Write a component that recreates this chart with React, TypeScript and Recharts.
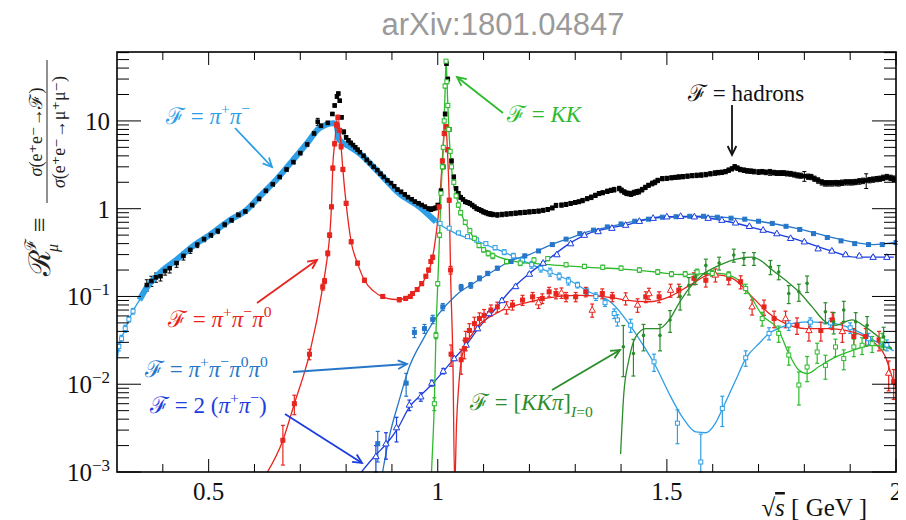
import React from "react";
import { ComposedChart, Line, Scatter, XAxis, YAxis, ErrorBar } from "recharts";

type Pt = [number, number];
// [sqrt(s), R, error] or [sqrt(s), R, error below, error above]
type EPt = [number, number, number] | [number, number, number, number];

// F = hadrons (black data)
const hadrons: EPt[] = [
  [0.365, 0.135, 0.02], [0.375, 0.15, 0.02], [0.385, 0.165, 0.02], [0.395, 0.17, 0.02],
  [0.405, 0.195, 0.02], [0.415, 0.21, 0.025], [0.43, 0.24, 0.025], [0.445, 0.29, 0.03],
  [0.46, 0.34, 0.03], [0.475, 0.39, 0.03], [0.49, 0.45, 0.03], [0.505, 0.5, 0.03],
  [0.52, 0.56, 0.04], [0.535, 0.66, 0.04], [0.55, 0.74, 0.04], [0.565, 0.85, 0.05],
  [0.58, 0.93, 0.05], [0.595, 1.1, 0.06], [0.61, 1.3, 0.07], [0.625, 1.6, 0.08],
  [0.64, 1.9, 0.1], [0.655, 2.3, 0.12], [0.67, 2.8, 0.14], [0.685, 3.4, 0.17],
  [0.7, 4.3, 0.2], [0.715, 5.4, 0.3], [0.73, 7.2, 0.4], [0.738, 9.8, 0.9],
  [0.745, 8.8, 0.4], [0.76, 9.5, 0.4], [0.77, 12, 0.5], [0.775, 15, 0.6],
  [0.78, 19, 0.8], [0.783, 20.5, 0.8], [0.786, 17, 0.7], [0.79, 11, 0.5],
  [0.795, 7.5, 0.4], [0.8, 6.5, 0.3], [0.805, 6.0, 0.3], [0.81, 5.6, 0.3],
  [0.815, 5.3, 0.25], [0.82, 5.0, 0.25], [0.825, 4.7, 0.2], [0.83, 4.4, 0.2],
  [0.838, 4.0, 0.2], [0.845, 3.6, 0.2], [0.852, 3.3, 0.15], [0.86, 3.0, 0.15],
  [0.868, 2.75, 0.13], [0.875, 2.5, 0.12], [0.882, 2.3, 0.11], [0.89, 2.1, 0.1],
  [0.898, 1.95, 0.1], [0.905, 1.8, 0.09], [0.912, 1.65, 0.08], [0.92, 1.55, 0.08],
  [0.928, 1.45, 0.07], [0.935, 1.35, 0.07], [0.943, 1.28, 0.06], [0.95, 1.2, 0.06],
  [0.958, 1.15, 0.06], [0.965, 1.1, 0.05], [0.972, 1.05, 0.05], [0.98, 1.0, 0.05],
  [0.985, 0.98, 0.05], [0.99, 1.0, 0.05], [0.995, 1.02, 0.05], [1.0, 1.1, 0.05],
  [1.007, 1.6, 0.08], [1.012, 3.0, 0.15], [1.016, 12, 0.6], [1.019, 45, 2],
  [1.022, 30, 1.5], [1.025, 8, 0.4], [1.03, 3.5, 0.2], [1.035, 2.3, 0.12],
  [1.04, 1.7, 0.08], [1.045, 1.5, 0.07], [1.05, 1.35, 0.07], [1.055, 1.28, 0.06],
  [1.06, 1.2, 0.06], [1.065, 1.18, 0.06], [1.07, 1.15, 0.06], [1.075, 1.1, 0.05],
  [1.08, 1.05, 0.05], [1.085, 1.0, 0.05], [1.09, 0.98, 0.05], [1.095, 0.95, 0.05],
  [1.1, 0.92, 0.05], [1.105, 0.9, 0.05], [1.11, 0.88, 0.05], [1.115, 0.87, 0.05],
  [1.12, 0.86, 0.05], [1.13, 0.85, 0.05], [1.14, 0.86, 0.05], [1.15, 0.87, 0.05],
  [1.16, 0.88, 0.05], [1.17, 0.89, 0.05], [1.18, 0.9, 0.05], [1.19, 0.91, 0.05],
  [1.2, 0.92, 0.05], [1.21, 0.93, 0.05], [1.22, 0.94, 0.05], [1.23, 0.96, 0.05],
  [1.24, 0.98, 0.05], [1.25, 1.02, 0.05], [1.258, 1.09, 0.06], [1.27, 1.1, 0.06],
  [1.28, 1.12, 0.06], [1.29, 1.15, 0.06], [1.3, 1.18, 0.06], [1.308, 1.2, 0.06],
  [1.316, 1.24, 0.07], [1.326, 1.3, 0.07], [1.335, 1.35, 0.08], [1.344, 1.42, 0.08],
  [1.352, 1.49, 0.08], [1.36, 1.52, 0.08], [1.37, 1.58, 0.09], [1.378, 1.62, 0.09],
  [1.385, 1.65, 0.1], [1.396, 1.7, 0.1], [1.401, 1.62, 0.1], [1.407, 1.55, 0.09],
  [1.412, 1.5, 0.09], [1.417, 1.49, 0.09], [1.422, 1.47, 0.09], [1.428, 1.52, 0.1],
  [1.434, 1.55, 0.1], [1.439, 1.57, 0.1], [1.446, 1.65, 0.1], [1.453, 1.75, 0.1],
  [1.46, 1.85, 0.1], [1.468, 1.94, 0.12], [1.474, 2.0, 0.12], [1.48, 2.1, 0.12],
  [1.49, 2.2, 0.12], [1.5, 2.22, 0.12], [1.51, 2.25, 0.12], [1.518, 2.28, 0.12],
  [1.526, 2.3, 0.13], [1.535, 2.32, 0.13], [1.545, 2.35, 0.13], [1.555, 2.38, 0.13],
  [1.565, 2.4, 0.14], [1.575, 2.42, 0.14], [1.585, 2.45, 0.14], [1.595, 2.5, 0.14],
  [1.605, 2.55, 0.15], [1.612, 2.58, 0.15], [1.62, 2.6, 0.15], [1.628, 2.65, 0.15],
  [1.635, 2.75, 0.16], [1.642, 2.85, 0.16], [1.648, 3.0, 0.18], [1.654, 2.9, 0.17],
  [1.66, 2.8, 0.16], [1.668, 2.75, 0.16], [1.675, 2.7, 0.16], [1.683, 2.68, 0.16],
  [1.69, 2.65, 0.16], [1.7, 2.62, 0.16], [1.708, 2.64, 0.16], [1.716, 2.6, 0.16],
  [1.725, 2.6, 0.2], [1.733, 2.58, 0.16], [1.74, 2.55, 0.16], [1.748, 2.55, 0.16],
  [1.755, 2.55, 0.16], [1.762, 2.52, 0.16], [1.77, 2.5, 0.16], [1.778, 2.45, 0.16],
  [1.785, 2.4, 0.16], [1.792, 2.38, 0.16], [1.8, 2.35, 0.3], [1.808, 2.32, 0.16],
  [1.815, 2.3, 0.16], [1.822, 2.2, 0.15], [1.83, 2.1, 0.15], [1.838, 2.0, 0.14],
  [1.845, 1.95, 0.14], [1.852, 1.95, 0.14], [1.86, 1.95, 0.14], [1.868, 1.96, 0.14],
  [1.875, 1.95, 0.14], [1.882, 1.98, 0.14], [1.89, 2.0, 0.14], [1.898, 2.0, 0.14],
  [1.905, 2.0, 0.14], [1.912, 2.02, 0.14], [1.92, 2.05, 0.15], [1.928, 2.08, 0.15],
  [1.935, 2.1, 0.4], [1.942, 2.12, 0.15], [1.95, 2.15, 0.15], [1.958, 2.18, 0.15],
  [1.965, 2.2, 0.15], [1.972, 2.25, 0.16], [1.98, 2.3, 0.16], [1.988, 2.25, 0.16],
  [1.995, 2.2, 0.16],
];

// F = pi+ pi- fit curve
const pipiFit: Pt[] = [
  [0.3, 0.019], [0.306, 0.029], [0.317, 0.041], [0.328, 0.058], [0.349, 0.091],
  [0.364, 0.124], [0.393, 0.185], [0.429, 0.26], [0.473, 0.4], [0.502, 0.5],
  [0.546, 0.74], [0.582, 0.96], [0.611, 1.37], [0.647, 2.12], [0.684, 3.58],
  [0.72, 6.06], [0.738, 8.0], [0.755, 9.0], [0.772, 9.4], [0.778, 9.3],
  [0.785, 6.1], [0.807, 5.1], [0.829, 4.27], [0.873, 2.53], [0.916, 1.49],
  [0.96, 1.05], [0.996, 0.71], [1.04, 0.52], [1.09, 0.42], [1.134, 0.337],
  [1.2, 0.238], [1.243, 0.19], [1.287, 0.153], [1.33, 0.113], [1.381, 0.083],
  [1.417, 0.049], [1.446, 0.029], [1.476, 0.0159], [1.505, 0.0078], [1.534, 0.0042],
  [1.563, 0.00286], [1.585, 0.0028], [1.606, 0.0036], [1.621, 0.0052], [1.65, 0.0111],
  [1.672, 0.0196], [1.701, 0.0291], [1.723, 0.0378], [1.752, 0.045], [1.781, 0.05],
  [1.813, 0.0514], [1.845, 0.05], [1.875, 0.048], [1.912, 0.041], [1.955, 0.031],
  [1.995, 0.024],
];

// F = pi+ pi- data (open squares)
const pipiPts: EPt[] = [
  [0.304, 0.027, 0.003], [0.31, 0.033, 0.003], [0.318, 0.043, 0.004], [0.326, 0.055, 0.004],
  [0.335, 0.068, 0.005], [1.005, 0.68, 0.02], [1.025, 0.6, 0.02], [1.045, 0.53, 0.02],
  [1.065, 0.48, 0.02], [1.085, 0.44, 0.02], [1.105, 0.4, 0.02], [1.125, 0.36, 0.02],
  [1.145, 0.32, 0.02], [1.165, 0.29, 0.02], [1.185, 0.26, 0.02], [1.205, 0.23, 0.02],
  [1.225, 0.21, 0.02], [1.245, 0.19, 0.02], [1.265, 0.17, 0.015], [1.285, 0.15, 0.015],
  [1.305, 0.135, 0.01], [1.325, 0.115, 0.01], [1.345, 0.1, 0.01], [1.365, 0.085, 0.008],
  [1.385, 0.064, 0.008], [1.392, 0.054, 0.008], [1.421, 0.047, 0.008], [1.472, 0.018, 0.004],
  [1.523, 0.0036, 0.0015], [1.574, 0.0013, 0.0003, 0.0014], [1.621, 0.0053, 0.002], [1.672, 0.02, 0.004],
  [1.723, 0.038, 0.006], [1.766, 0.047, 0.006], [1.813, 0.051, 0.006], [1.857, 0.05, 0.006],
  [1.9, 0.044, 0.006], [1.94, 0.033, 0.005], [1.98, 0.028, 0.004],
];

// F = pi+ pi- pi0 fit
const threePiFit: Pt[] = [
  [0.62, 0.00085], [0.662, 0.0023], [0.687, 0.006], [0.72, 0.022], [0.749, 0.128],
  [0.76, 0.31], [0.764, 0.48], [0.768, 1.05], [0.771, 3.1], [0.775, 5.5],
  [0.782, 11.5], [0.789, 5.1], [0.793, 2.75], [0.8, 1.15], [0.811, 0.42],
  [0.825, 0.238], [0.84, 0.153], [0.86, 0.115], [0.88, 0.099], [0.9, 0.093],
  [0.916, 0.092], [0.93, 0.097], [0.945, 0.108], [0.96, 0.13], [0.974, 0.167],
  [0.989, 0.283], [0.998, 0.6], [1.003, 1.05], [1.009, 3.0], [1.014, 7.2],
  [1.018, 8.6], [1.021, 4.7], [1.025, 1.25], [1.028, 0.18], [1.033, 0.019],
  [1.037, 0.0007], [1.041, 0.0036], [1.046, 0.01], [1.054, 0.022], [1.076, 0.038],
  [1.127, 0.064], [1.2, 0.087], [1.265, 0.1], [1.309, 0.103], [1.381, 0.097],
  [1.41, 0.091], [1.461, 0.087], [1.505, 0.099], [1.556, 0.14], [1.592, 0.176],
  [1.606, 0.177], [1.643, 0.161], [1.686, 0.099], [1.723, 0.064], [1.759, 0.049],
  [1.803, 0.043], [1.853, 0.043], [1.89, 0.041], [1.926, 0.036], [1.955, 0.029],
  [1.977, 0.0205], [1.991, 0.0122], [2.0, 0.009],
];

const threePiSq: EPt[] = [
  [0.662, 0.0023, 0.0011], [0.687, 0.006, 0.0015], [0.72, 0.022, 0.003], [0.749, 0.128, 0.01],
  [0.753, 0.15, 0.01], [0.76, 0.31, 0.02], [0.764, 0.5, 0.03], [0.768, 1.05, 0.05],
  [0.771, 2.9, 0.15], [0.775, 5.5, 0.3], [0.779, 9, 0.5], [0.782, 11, 0.6],
  [0.786, 7.8, 0.4], [0.789, 5.1, 0.3], [0.793, 2.8, 0.15], [0.8, 1.15, 0.06],
  [0.811, 0.42, 0.02], [0.825, 0.24, 0.012], [0.84, 0.153, 0.008], [0.88, 0.1, 0.005],
  [0.916, 0.092, 0.005], [0.93, 0.095, 0.005], [0.94, 0.1, 0.005], [0.945, 0.108, 0.005],
  [0.955, 0.12, 0.006], [0.965, 0.14, 0.007], [0.974, 0.17, 0.008], [0.98, 0.2, 0.01],
  [0.985, 0.25, 0.012], [0.989, 0.28, 0.014], [1.003, 1.05, 0.05], [1.01, 3.5, 0.2],
  [1.014, 7.2, 0.4], [1.018, 8.6, 0.4], [1.021, 4.7, 0.25], [1.025, 1.25, 0.06],
  [1.028, 0.2, 0.02], [1.029, 0.022, 0.006], [1.051, 0.019, 0.006], [1.058, 0.0255, 0.006],
  [1.061, 0.032, 0.008], [1.069, 0.041, 0.008], [1.08, 0.049, 0.009], [1.091, 0.056, 0.009],
  [1.101, 0.061, 0.01], [1.116, 0.07, 0.01], [1.13, 0.076, 0.01], [1.163, 0.08, 0.01],
  [1.185, 0.091, 0.012], [1.207, 0.099, 0.012], [1.228, 0.095, 0.012], [1.243, 0.113, 0.014],
  [1.258, 0.108, 0.014], [1.28, 0.099, 0.012], [1.301, 0.099, 0.012], [1.323, 0.113, 0.014],
  [1.359, 0.108, 0.014], [1.381, 0.099, 0.012], [1.454, 0.099, 0.014], [1.483, 0.099, 0.014],
  [1.526, 0.118, 0.02], [1.559, 0.161, 0.025], [1.585, 0.153, 0.025], [1.635, 0.161, 0.025],
  [1.661, 0.147, 0.025], [1.712, 0.076, 0.015], [1.734, 0.056, 0.012], [1.784, 0.047, 0.01],
  [1.836, 0.041, 0.01], [1.861, 0.054, 0.012], [1.908, 0.035, 0.008], [1.934, 0.035, 0.008],
  [1.963, 0.032, 0.008], [1.995, 0.0107, 0.004],
];

const threePiTri: EPt[] = [
  [1.15, 0.075, 0.012], [1.22, 0.085, 0.012], [1.27, 0.11, 0.015], [1.337, 0.07, 0.012],
  [1.41, 0.095, 0.015], [1.436, 0.08, 0.014], [1.461, 0.108, 0.016], [1.508, 0.118, 0.02],
  [1.606, 0.176, 0.03], [1.686, 0.0764, 0.015], [1.759, 0.056, 0.012], [1.81, 0.041, 0.01],
  [1.883, 0.04, 0.01], [1.984, 0.0134, 0.005],
];

// F = KK
const kkFit: Pt[] = [
  [0.985, 0.0007], [0.989, 0.002], [0.9925, 0.006], [0.996, 0.036], [1.0, 0.14],
  [1.004, 0.5], [1.007, 1.49], [1.012, 5.0], [1.0165, 26.6], [1.018, 49.5],
  [1.0215, 17.6], [1.025, 6.6], [1.032, 2.31], [1.043, 1.24], [1.054, 0.81],
  [1.069, 0.57], [1.083, 0.42], [1.105, 0.337], [1.134, 0.28], [1.17, 0.25],
  [1.22, 0.235], [1.265, 0.226], [1.33, 0.215], [1.403, 0.205], [1.476, 0.19],
  [1.526, 0.178], [1.57, 0.181], [1.614, 0.183], [1.657, 0.153], [1.679, 0.108],
  [1.708, 0.0612], [1.744, 0.041], [1.766, 0.0224], [1.788, 0.0145], [1.806, 0.0132],
  [1.832, 0.0159], [1.861, 0.0196], [1.904, 0.0242], [1.948, 0.0278], [1.991, 0.0255],
];

const kkPts: EPt[] = [
  [0.9925, 0.006, 0.001], [0.996, 0.036, 0.003], [1.0, 0.14, 0.008], [1.004, 0.5, 0.03],
  [1.007, 1.5, 0.08], [1.01, 3, 0.15], [1.012, 5, 0.25], [1.014, 10, 0.5],
  [1.016, 25, 1.2], [1.018, 48, 2], [1.02, 28, 1.4], [1.022, 15, 0.8],
  [1.024, 8, 0.4], [1.027, 4.5, 0.2], [1.03, 3, 0.15], [1.035, 2, 0.1],
  [1.04, 1.4, 0.07], [1.045, 1.1, 0.06], [1.05, 0.9, 0.05], [1.06, 0.7, 0.04],
  [1.07, 0.56, 0.03], [1.08, 0.46, 0.025], [1.09, 0.38, 0.02], [1.1, 0.34, 0.02],
  [1.11, 0.31, 0.02], [1.12, 0.29, 0.02], [1.15, 0.25, 0.015], [1.18, 0.24, 0.015],
  [1.21, 0.26, 0.015], [1.24, 0.27, 0.015], [1.28, 0.23, 0.012], [1.32, 0.22, 0.012],
  [1.36, 0.215, 0.012], [1.4, 0.21, 0.012], [1.44, 0.2, 0.012], [1.48, 0.19, 0.012],
  [1.51, 0.18, 0.012], [1.54, 0.18, 0.012], [1.566, 0.19, 0.015], [1.599, 0.183, 0.015],
  [1.635, 0.176, 0.015], [1.672, 0.123, 0.015], [1.708, 0.056, 0.01], [1.744, 0.038, 0.008],
  [1.766, 0.0215, 0.005], [1.788, 0.0098, 0.004], [1.806, 0.0157, 0.005], [1.828, 0.0233, 0.006],
  [1.846, 0.0164, 0.005], [1.868, 0.0266, 0.006], [1.886, 0.0196, 0.005], [1.908, 0.0266, 0.006],
  [1.926, 0.0278, 0.006], [1.948, 0.029, 0.006], [1.97, 0.032, 0.006],
];

// F = [KK pi]_{I=0}
const kkpiFit: Pt[] = [
  [1.399, 0.0016], [1.406, 0.0078], [1.417, 0.0188], [1.432, 0.0346], [1.454, 0.043],
  [1.483, 0.043], [1.505, 0.054], [1.526, 0.083], [1.548, 0.123], [1.577, 0.176],
  [1.614, 0.226], [1.657, 0.27], [1.686, 0.28], [1.708, 0.25], [1.73, 0.2],
  [1.759, 0.153], [1.788, 0.113], [1.817, 0.076], [1.846, 0.0514], [1.868, 0.047],
  [1.904, 0.054], [1.933, 0.045], [1.962, 0.0346], [1.991, 0.0255],
];

const kkpiPts: EPt[] = [
  [1.405, 0.0267, 0.0145, 0.02], [1.427, 0.0224, 0.01], [1.449, 0.036, 0.012], [1.485, 0.036, 0.012],
  [1.507, 0.054, 0.015], [1.529, 0.1, 0.03], [1.548, 0.134, 0.03], [1.563, 0.167, 0.03],
  [1.585, 0.226, 0.04], [1.614, 0.24, 0.04], [1.646, 0.296, 0.05], [1.668, 0.271, 0.045],
  [1.69, 0.271, 0.045], [1.726, 0.217, 0.04], [1.744, 0.19, 0.035], [1.766, 0.108, 0.025],
  [1.788, 0.113, 0.025], [1.806, 0.141, 0.03], [1.846, 0.0668, 0.018], [1.864, 0.0514, 0.014],
  [1.886, 0.07, 0.018], [1.912, 0.0514, 0.014], [1.937, 0.047, 0.012], [1.973, 0.0346, 0.01],
];

// F = pi+ pi- pi0 pi0
const fourPiFit: Pt[] = [
  [0.878, 0.0009], [0.894, 0.0025], [0.916, 0.0066], [0.938, 0.0158], [0.967, 0.0318],
  [1.003, 0.064], [1.04, 0.1035], [1.083, 0.147], [1.125, 0.2], [1.156, 0.25],
  [1.2, 0.3], [1.243, 0.38], [1.287, 0.46], [1.33, 0.55], [1.374, 0.62],
  [1.417, 0.7], [1.461, 0.77], [1.505, 0.81], [1.563, 0.82], [1.635, 0.79],
  [1.708, 0.71], [1.781, 0.6], [1.853, 0.48], [1.912, 0.41], [1.95, 0.39],
  [1.995, 0.41],
];

const fourPiPts: EPt[] = [
  [0.869, 0.0021, 0.0008], [0.931, 0.0103, 0.003], [0.949, 0.039, 0.005], [0.971, 0.043, 0.005],
  [0.989, 0.055, 0.006], [1.011, 0.076, 0.007], [1.051, 0.127, 0.01], [1.072, 0.134, 0.01],
  [1.091, 0.161, 0.01], [1.109, 0.183, 0.01], [1.13, 0.21, 0.01], [1.16, 0.25, 0.01],
  [1.19, 0.29, 0.012], [1.22, 0.33, 0.012], [1.25, 0.39, 0.014], [1.28, 0.45, 0.015],
  [1.31, 0.52, 0.015], [1.34, 0.57, 0.015], [1.37, 0.62, 0.015], [1.4, 0.67, 0.015],
  [1.43, 0.72, 0.015], [1.46, 0.76, 0.015], [1.49, 0.8, 0.015], [1.52, 0.81, 0.015],
  [1.55, 0.82, 0.015], [1.58, 0.82, 0.015], [1.61, 0.8, 0.015], [1.64, 0.78, 0.015],
  [1.67, 0.76, 0.015], [1.7, 0.72, 0.015], [1.73, 0.68, 0.015], [1.76, 0.63, 0.015],
  [1.79, 0.58, 0.015], [1.82, 0.52, 0.015], [1.85, 0.47, 0.015], [1.88, 0.43, 0.015],
  [1.91, 0.4, 0.015], [1.94, 0.39, 0.015], [1.97, 0.39, 0.015], [2.0, 0.41, 0.015],
];

// F = 2(pi+ pi-)
const twoPiFit: Pt[] = [
  [0.83, 0.00095], [0.865, 0.00157], [0.887, 0.00207], [0.912, 0.0031], [0.938, 0.0055],
  [0.963, 0.0075], [0.989, 0.0102], [1.011, 0.0138], [1.036, 0.0196], [1.062, 0.0279],
  [1.091, 0.045], [1.12, 0.0666], [1.156, 0.113], [1.2, 0.183], [1.243, 0.27],
  [1.287, 0.4], [1.33, 0.523], [1.374, 0.6], [1.41, 0.65], [1.446, 0.73],
  [1.49, 0.81], [1.563, 0.81], [1.635, 0.71], [1.708, 0.57], [1.781, 0.45],
  [1.853, 0.337], [1.912, 0.28], [1.995, 0.28],
];

const twoPiPts: EPt[] = [
  [0.865, 0.0015, 0.0005], [0.887, 0.0021, 0.0007], [0.91, 0.0032, 0.001], [0.938, 0.0058, 0.0008],
  [0.963, 0.0072, 0.0008], [0.987, 0.0103, 0.0008], [1.012, 0.0141, 0.001], [1.036, 0.0196, 0.001],
  [1.062, 0.028, 0.0015], [1.087, 0.043, 0.002], [1.112, 0.064, 0.003], [1.14, 0.09, 0.004],
  [1.17, 0.13, 0.005], [1.2, 0.18, 0.006], [1.23, 0.24, 0.008], [1.26, 0.3, 0.01],
  [1.29, 0.4, 0.01], [1.32, 0.5, 0.01], [1.35, 0.55, 0.01], [1.38, 0.6, 0.01],
  [1.41, 0.65, 0.01], [1.44, 0.72, 0.01], [1.47, 0.78, 0.01], [1.5, 0.81, 0.01],
  [1.53, 0.82, 0.01], [1.56, 0.81, 0.01], [1.59, 0.78, 0.01], [1.62, 0.74, 0.01],
  [1.65, 0.69, 0.01], [1.68, 0.63, 0.01], [1.71, 0.57, 0.01], [1.74, 0.52, 0.01],
  [1.77, 0.46, 0.01], [1.8, 0.42, 0.01], [1.83, 0.35, 0.01], [1.86, 0.33, 0.01],
  [1.89, 0.3, 0.01], [1.92, 0.29, 0.01], [1.95, 0.28, 0.01], [1.98, 0.28, 0.01],
];

const xTicks = [0.4, 0.5, 0.6, 0.7, 0.8, 0.9, 1.0, 1.1, 1.2, 1.3, 1.4, 1.5, 1.6, 1.7, 1.8, 1.9, 2.0];
const xMajor = [0.5, 1.0, 1.5, 2.0];
const yTicks = [
  0.001, 0.002, 0.003, 0.004, 0.005, 0.006, 0.007, 0.008, 0.009,
  0.01, 0.02, 0.03, 0.04, 0.05, 0.06, 0.07, 0.08, 0.09,
  0.1, 0.2, 0.3, 0.4, 0.5, 0.6, 0.7, 0.8, 0.9,
  1, 2, 3, 4, 5, 6, 7, 8, 9,
  10, 20, 30, 40, 50, 60,
];
const yMajor = [0.001, 0.01, 0.1, 1, 10];
const yMajorExp = [-3, -2, -1, 0, 1];

const W = 906;
const H = 520;
const M = { top: 52, right: 10, bottom: 18, left: 57 };
const AXIS_W = 60;
const AXIS_H = 30;
const PL = M.left + AXIS_W;
const PT = M.top;
const PW = W - PL - M.right;
const PH = H - M.top - M.bottom - AXIS_H;

const SERIF = '"Liberation Serif", "DejaVu Serif", serif';

const C = {
  pipi: "#2e9fe6",
  red: "#e8241e",
  kk: "#2dbb2d",
  kkpi: "#2a8d2a",
  fourPi: "#2677c9",
  twoPi: "#1c3ddf",
};

const rows = (p: Pt[]) => p.map(([x, y]) => ({ x, y }));
const erows = (p: EPt[]) =>
  p.map((d) => ({ x: d[0], y: d[1], err: d.length === 4 ? [d[2], d[3]] : d[2] }));

const square = (color: string, filled: boolean, s = 4) => (p: any) => (
  <rect x={p.cx - s / 2} y={p.cy - s / 2} width={s} height={s} fill={filled ? color : "#fff"} stroke={color} strokeWidth={1} />
);
const triangle = (color: string) => (p: any) => (
  <path d={`M${p.cx},${p.cy - 3.5}L${p.cx + 3.2},${p.cy + 2.2}L${p.cx - 3.2},${p.cy + 2.2}Z`} fill="#fff" stroke={color} strokeWidth={1} />
);
const dot = (color: string, r: number) => (p: any) => <circle cx={p.cx} cy={p.cy} r={r} fill={color} />;

const XTick = (props: any) => {
  const { x, payload } = props;
  const v = payload.value;
  const major = xMajor.includes(v);
  const len = major ? 13 : 8;
  const yb = PT + PH;
  return (
    <g>
      <line x1={x} x2={x} y1={yb} y2={yb - len} stroke="#000" strokeWidth={1} />
      <line x1={x} x2={x} y1={PT} y2={PT + len} stroke="#000" strokeWidth={1} />
      {major && (
        <text x={x} y={yb + 28} textAnchor="middle" fontSize={25} fontFamily={SERIF} fill="#111">
          {String(v)}
        </text>
      )}
    </g>
  );
};

const YTick = (props: any) => {
  const { y, payload } = props;
  const v = payload.value;
  const idx = yMajor.indexOf(v);
  const major = idx >= 0;
  const len = major ? 24 : 12;
  const xr = PL + PW;
  const exp = major ? yMajorExp[idx] : 0;
  return (
    <g>
      <line x1={PL} x2={PL + len} y1={y} y2={y} stroke="#000" strokeWidth={1} />
      <line x1={xr} x2={xr - len} y1={y} y2={y} stroke="#000" strokeWidth={1} />
      {major && (
        <text x={PL - 7} y={y + 9} textAnchor="end" fontSize={25} fontFamily={SERIF} fill="#111">
          {exp === 0 ? "1" : exp === 1 ? "10" : (
            <>
              <tspan>10</tspan>
              <tspan dy={-10} fontSize={17}>{"\u2212" + String(-exp)}</tspan>
            </>
          )}
        </text>
      )}
    </g>
  );
};

type Seg = { t: string; sup?: boolean; sub?: boolean; it?: boolean };

const MathLabel = ({ x, y, segs, color, size = 23 }: { x: number; y: number; segs: Seg[]; color: string; size?: number }) => {
  let shift = 0;
  return (
    <text x={x} y={y} fill={color} fontSize={size} fontFamily={SERIF}>
      {segs.map((s, i) => {
        const target = s.sup ? -size * 0.42 : s.sub ? size * 0.32 : 0;
        const dy = target - shift;
        shift = target;
        return (
          <tspan key={i} dy={dy} fontSize={s.sup || s.sub ? size * 0.68 : size} fontStyle={s.it ? "italic" : "normal"}>
            {s.t}
          </tspan>
        );
      })}
    </text>
  );
};

const Arrow = ({ x1, y1, x2, y2, color }: { x1: number; y1: number; x2: number; y2: number; color: string }) => {
  const a = Math.atan2(y2 - y1, x2 - x1);
  const h = 10;
  const s = 0.45;
  return (
    <g stroke={color} strokeWidth={1.8} fill="none">
      <line x1={x1} y1={y1} x2={x2} y2={y2} />
      <polyline
        points={`${x2 - h * Math.cos(a - s)},${y2 - h * Math.sin(a - s)} ${x2},${y2} ${x2 - h * Math.cos(a + s)},${y2 - h * Math.sin(a + s)}`}
      />
    </g>
  );
};

const F = "\u2131";
const PI = "\u03C0";

export default function App() {
  const band = pipiFit.filter(([x]) => x >= 0.335 && x <= 0.996);
  return (
    <div style={{ position: "relative", width: W, height: H, margin: "-8px 0 0 -8px", background: "#fff" }}>
      <ComposedChart width={W} height={H} margin={M}>
        <XAxis
          type="number"
          dataKey="x"
          domain={[0.3, 2]}
          allowDataOverflow
          ticks={xTicks}
          interval={0}
          tick={XTick}
          tickLine={false}
          axisLine={false}
          height={AXIS_H}
        />
        <YAxis
          type="number"
          dataKey="y"
          scale="log"
          domain={[0.001, 61]}
          allowDataOverflow
          ticks={yTicks}
          interval={0}
          tick={YTick}
          tickLine={false}
          axisLine={false}
          width={AXIS_W}
        />

        <Scatter data={erows(hadrons)} dataKey="y" shape={square("#000", true, 3.5)} isAnimationActive={false}>
          <ErrorBar dataKey="err" direction="y" width={2} stroke="#000" strokeWidth={1} />
        </Scatter>

        <Line data={rows(pipiFit)} dataKey="y" type="monotone" stroke={C.pipi} strokeWidth={1.3} dot={false} isAnimationActive={false} />
        <Line data={rows(band)} dataKey="y" type="monotone" stroke={C.pipi} strokeWidth={6} dot={false} isAnimationActive={false} />
        <Scatter data={erows(pipiPts)} dataKey="y" shape={square(C.pipi, false, 4)} isAnimationActive={false}>
          <ErrorBar dataKey="err" direction="y" width={2} stroke={C.pipi} strokeWidth={1.2} />
        </Scatter>

        <Line data={rows(fourPiFit)} dataKey="y" type="monotone" stroke={C.fourPi} strokeWidth={1.3} dot={false} isAnimationActive={false} />
        <Scatter data={erows(fourPiPts)} dataKey="y" shape={square(C.fourPi, true, 4)} isAnimationActive={false}>
          <ErrorBar dataKey="err" direction="y" width={2} stroke={C.fourPi} strokeWidth={1.2} />
        </Scatter>

        <Line data={rows(twoPiFit)} dataKey="y" type="monotone" stroke={C.twoPi} strokeWidth={1.3} dot={false} isAnimationActive={false} />
        <Scatter data={erows(twoPiPts)} dataKey="y" shape={triangle(C.twoPi)} isAnimationActive={false}>
          <ErrorBar dataKey="err" direction="y" width={2} stroke={C.twoPi} strokeWidth={1.2} />
        </Scatter>

        <Line data={rows(threePiFit)} dataKey="y" type="monotone" stroke={C.red} strokeWidth={1.3} dot={false} isAnimationActive={false} />
        <Scatter data={erows(threePiSq)} dataKey="y" shape={square(C.red, true, 4)} isAnimationActive={false}>
          <ErrorBar dataKey="err" direction="y" width={2} stroke={C.red} strokeWidth={1.2} />
        </Scatter>
        <Scatter data={erows(threePiTri)} dataKey="y" shape={triangle(C.red)} isAnimationActive={false}>
          <ErrorBar dataKey="err" direction="y" width={2} stroke={C.red} strokeWidth={1.2} />
        </Scatter>

        <Line data={rows(kkFit)} dataKey="y" type="monotone" stroke={C.kk} strokeWidth={1.3} dot={false} isAnimationActive={false} />
        <Scatter data={erows(kkPts)} dataKey="y" shape={square(C.kk, false, 4)} isAnimationActive={false}>
          <ErrorBar dataKey="err" direction="y" width={2} stroke={C.kk} strokeWidth={1.2} />
        </Scatter>

        <Line data={rows(kkpiFit)} dataKey="y" type="monotone" stroke={C.kkpi} strokeWidth={1.3} dot={false} isAnimationActive={false} />
        <Scatter data={erows(kkpiPts)} dataKey="y" shape={dot(C.kkpi, 1.8)} isAnimationActive={false}>
          <ErrorBar dataKey="err" direction="y" width={2} stroke={C.kkpi} strokeWidth={1.2} />
        </Scatter>
      </ComposedChart>

      <svg width={W} height={H} style={{ position: "absolute", left: 0, top: 0, pointerEvents: "none" }}>
        <rect x={PL} y={PT} width={PW} height={PH} fill="none" stroke="#000" strokeWidth={1.6} />

        <text x={503} y={35} textAnchor="middle" fontSize={31} fontFamily='"Liberation Sans", Arial, sans-serif' fill="#9a9a9a">
          arXiv:1801.04847
        </text>

        <g transform="translate(52,170) rotate(-90)" fill="#222" fontFamily={SERIF}>
          <text x={-106} y={-2} fontSize={30}>{"\u211B"}</text>
          <text x={-82} y={-16} fontSize={16}>{F}</text>
          <text x={-82} y={6} fontSize={16} fontStyle="italic">{"\u03BC"}</text>
          <text x={-62} y={-4} fontSize={26}>{"\u2261"}</text>
          <text x={38} y={-10} fontSize={18} textAnchor="middle">
            <tspan fontStyle="italic">{"\u03C3"}</tspan>
            {"(e\u207Ae\u207B\u2192" + F + ")"}
          </text>
          <line x1={-33} x2={110} y1={-5} y2={-5} stroke="#222" strokeWidth={1} />
          <text x={38} y={13} fontSize={18} textAnchor="middle">
            <tspan fontStyle="italic">{"\u03C3"}</tspan>
            {"(e\u207Ae\u207B\u2192\u03BC\u207A\u03BC\u207B)"}
          </text>
        </g>

        <text x={867} y={516} textAnchor="end" fontSize={25} fontFamily={SERIF} fill="#111">
          {"\u221A"}
          <tspan fontStyle="italic" textDecoration="overline">s</tspan>
          {"  [ GeV ]"}
        </text>

        <MathLabel x={166} y={124} color={C.pipi} segs={[{ t: F + " = " }, { t: PI, it: true }, { t: "+", sup: true }, { t: PI, it: true }, { t: "\u2212", sup: true }]} />
        <Arrow x1={235} y1={128} x2={272} y2={167} color={C.pipi} />

        <MathLabel x={507} y={122} color={C.kk} segs={[{ t: F + " = " }, { t: "KK", it: true }]} />
        <Arrow x1={503} y1={113} x2={457} y2={77} color={C.kk} />

        <MathLabel x={688} y={101} color="#111" segs={[{ t: F + " = hadrons" }]} />
        <Arrow x1={732} y1={105} x2={732} y2={155} color="#111" />

        <MathLabel x={168} y={327} color={C.red} segs={[{ t: F + " = " }, { t: PI, it: true }, { t: "+", sup: true }, { t: PI, it: true }, { t: "\u2212", sup: true }, { t: PI, it: true }, { t: "0", sup: true }]} />
        <Arrow x1={257} y1={303} x2={317} y2={260} color={C.red} />

        <MathLabel x={145} y={377} color={C.fourPi} segs={[{ t: F + " = " }, { t: PI, it: true }, { t: "+", sup: true }, { t: PI, it: true }, { t: "\u2212", sup: true }, { t: PI, it: true }, { t: "0", sup: true }, { t: PI, it: true }, { t: "0", sup: true }]} />
        <Arrow x1={293} y1={372} x2={407} y2={364} color={C.fourPi} />

        <MathLabel x={150} y={413} color={C.twoPi} segs={[{ t: F + " = 2 (" }, { t: PI, it: true }, { t: "+", sup: true }, { t: PI, it: true }, { t: "\u2212", sup: true }, { t: ")" }]} />
        <Arrow x1={285} y1={414} x2={362} y2={463} color={C.twoPi} />

        <MathLabel x={470} y={410} color={C.kkpi} segs={[{ t: F + " = [" }, { t: "KK" + PI, it: true }, { t: "]" }, { t: "I", sub: true, it: true }, { t: "=0", sub: true }]} />
        <Arrow x1={552} y1={390} x2={620} y2={350} color={C.kkpi} />
      </svg>
    </div>
  );
}
